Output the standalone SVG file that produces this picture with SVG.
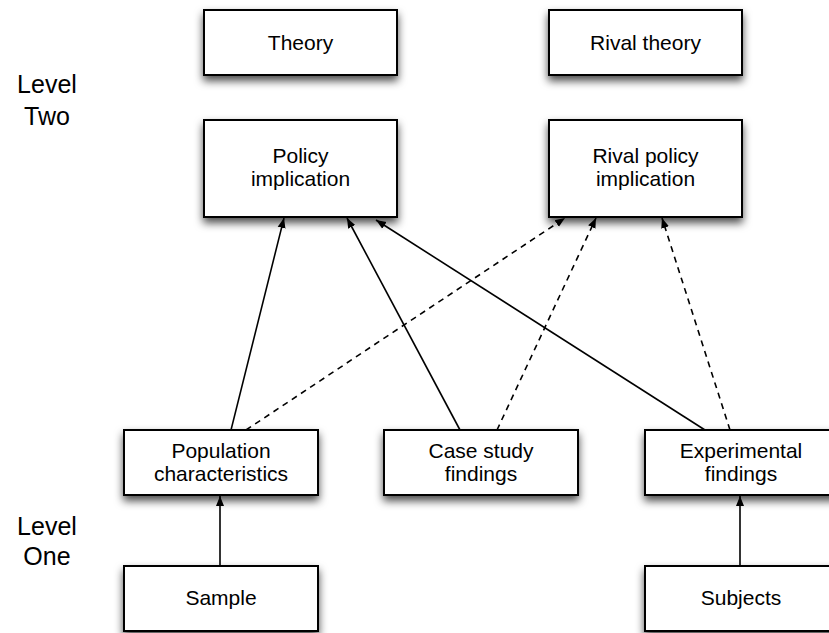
<svg xmlns="http://www.w3.org/2000/svg" width="829" height="633" viewBox="0 0 829 633">
<style>
.box{fill:#fff;stroke:#000;stroke-width:2;filter:url(#sh)}
.t{font-family:"Liberation Sans",Arial,sans-serif;font-size:21px;fill:#000;text-anchor:middle}
.lv{font-family:"Liberation Sans",Arial,sans-serif;font-size:25px;fill:#000;text-anchor:middle}
.c{fill:none;stroke:#000;stroke-width:1.6;marker-end:url(#ah)}
.d{stroke-dasharray:6,5}
</style>
<defs>
<filter id="sh" x="-20%" y="-20%" width="140%" height="170%">
<feDropShadow dx="0" dy="5" stdDeviation="4.5" flood-color="#000" flood-opacity="0.7"/>
</filter>
<marker id="ah" viewBox="0 0 10 10" refX="10" refY="5" markerWidth="10" markerHeight="10" markerUnits="userSpaceOnUse" orient="auto">
<path d="M0,1 L10,5 L0,9 z" fill="#000"/>
</marker>
</defs>
<g id="labels">
<text class="lv" x="47" y="93">Level</text>
<text class="lv" x="47" y="125">Two</text>
<text class="lv" x="47" y="535">Level</text>
<text class="lv" x="47" y="565">One</text>
</g>
<g id="connectors">
<line class="c" x1="231" y1="430" x2="284" y2="218"/>
<line class="c" x1="460" y1="430" x2="347" y2="218"/>
<line class="c" x1="705" y1="430" x2="376" y2="220"/>
<line class="c d" x1="246" y1="430" x2="565" y2="218"/>
<line class="c d" x1="497" y1="430" x2="596" y2="218"/>
<line class="c d" x1="730" y1="430" x2="662" y2="218"/>
<line class="c" x1="220" y1="566" x2="220" y2="496"/>
<line class="c" x1="740" y1="566" x2="740" y2="496"/>
</g>
<g id="theory"><rect class="box" x="204" y="10" width="193" height="65"/><text class="t" x="300.5" y="50">Theory</text></g>
<g id="rival-theory"><rect class="box" x="549" y="10" width="193" height="65"/><text class="t" x="645.5" y="50">Rival theory</text></g>
<g id="policy"><rect class="box" x="204" y="120" width="193" height="97"/><text class="t" x="300.5" y="163">Policy</text><text class="t" x="300.5" y="186">implication</text></g>
<g id="rival-policy"><rect class="box" x="549" y="120" width="193" height="97"/><text class="t" x="645.5" y="163">Rival policy</text><text class="t" x="645.5" y="186">implication</text></g>
<g id="population"><rect class="box" x="124" y="430" width="194" height="65"/><text class="t" x="221" y="458">Population</text><text class="t" x="221" y="481">characteristics</text></g>
<g id="case-study"><rect class="box" x="384" y="430" width="194" height="65"/><text class="t" x="481" y="458">Case study</text><text class="t" x="481" y="481">findings</text></g>
<g id="experimental"><rect class="box" x="645" y="430" width="193" height="65"/><text class="t" x="741" y="458">Experimental</text><text class="t" x="741" y="481">findings</text></g>
<g id="sample"><rect class="box" x="124" y="566" width="194" height="65"/><text class="t" x="221" y="605">Sample</text></g>
<g id="subjects"><rect class="box" x="645" y="566" width="193" height="65"/><text class="t" x="741" y="605">Subjects</text></g>
</svg>
